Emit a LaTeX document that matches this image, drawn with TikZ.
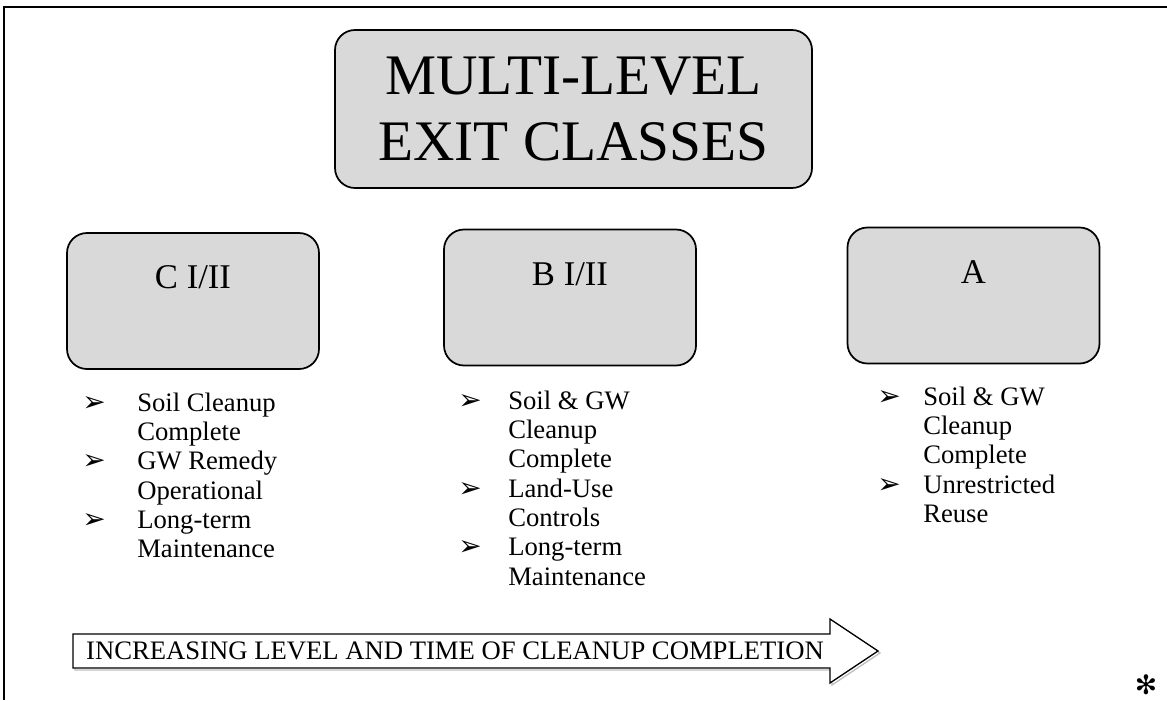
\documentclass[tikz,border=0pt]{standalone}
\usepackage{fontspec}
\setmainfont{Liberation Serif}
\newfontfamily\dingfont{DejaVu Sans}
\usetikzlibrary{positioning}

\definecolor{boxgray}{HTML}{D9D9D9}
\newcommand{\arrowbul}{{\dingfont\fontsize{21}{21}\selectfont ➢}}

\tikzset{
    classbox/.style={draw, line width=1.3pt, fill=boxgray, rounded corners=15pt,
        minimum width=189pt, minimum height=102pt},
    boxlabel/.style={anchor=base, font=\fontsize{26}{28}\selectfont, inner sep=0pt},
    itemlist/.style={anchor=base west, inner sep=0pt, font=\fontsize{20}{22}\selectfont},
}

\begin{document}
\begin{tikzpicture}[x=0.75pt, y=-0.75pt]
    \useasboundingbox (0,0) rectangle (1167,700);
    % moldura
    \draw[line width=1.8pt] (4,700) -- (4,7) -- (1167,7);

    % titulo
    \node[classbox, minimum width=357.75pt, minimum height=118.5pt, align=center,
          font=\fontsize{43}{49}\selectfont] (title) at (573.5,109) {MULTI-LEVEL\\EXIT CLASSES};

    % classes
    \node[classbox] (classC) at (193,301) {};
    \node[boxlabel] (labC) at (193,288) {C I/II};
    \node[classbox] (classB) at (570,297.5) {};
    \node[boxlabel] (labB) at (570,285) {B I/II};
    \node[classbox] (classA) at (973.5,295.5) {};
    \node[boxlabel] (labA) at (973.5,283) {A};

    % listas
    \node[itemlist] (listC) at (82,411) {\begin{tabular}[t]{@{}p{41.25pt}@{}l@{}}
        \arrowbul & Soil Cleanup\\
                  & Complete\\
        \arrowbul & GW Remedy\\
                  & Operational\\
        \arrowbul & Long-term\\
                  & Maintenance
    \end{tabular}};
    \node[itemlist] (listB) at (458,409) {\begin{tabular}[t]{@{}p{37.5pt}@{}l@{}}
        \arrowbul & Soil \& GW\\
                  & Cleanup\\
                  & Complete\\
        \arrowbul & Land-Use\\
                  & Controls\\
        \arrowbul & Long-term\\
                  & Maintenance
    \end{tabular}};
    \node[itemlist] (listA) at (877,405) {\begin{tabular}[t]{@{}p{34.5pt}@{}l@{}}
        \arrowbul & Soil \& GW\\
                  & Cleanup\\
                  & Complete\\
        \arrowbul & Unrestricted\\
                  & Reuse
    \end{tabular}};

    % seta de progresso
    \draw[gray!50, line width=1pt] (75,636) -- (832,636) -- (832,621) -- (880,653)
        -- (832,685) -- (832,670) -- (75,670) -- cycle;
    \draw[fill=white, line width=1pt] (73,634) -- (830,634) -- (830,619) -- (878,651)
        -- (830,683) -- (830,668) -- (73,668) -- cycle;
    \node[font=\fontsize{20}{22}\selectfont, inner sep=0pt] (progress) at (455,651)
        {INCREASING LEVEL AND TIME OF CLEANUP COMPLETION};

    % asterisco
    \node[font=\dingfont\fontsize{20}{20}\selectfont, inner sep=0pt] (star) at (1146,685) {✻};
\end{tikzpicture}
\end{document}
